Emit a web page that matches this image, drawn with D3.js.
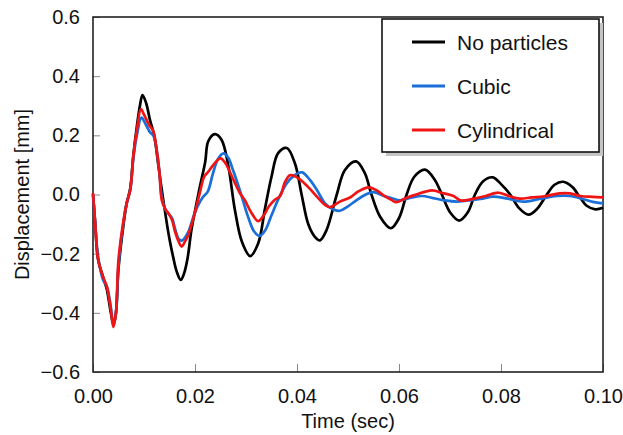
<!DOCTYPE html>
<html>
<head>
<meta charset="utf-8">
<script src="https://cdn.jsdelivr.net/npm/d3@7"></script>
<style>
  body { margin: 0; background: #fff; }
  text { font-family: "Liberation Sans", Arial, sans-serif; fill: #111; }
</style>
</head>
<body>
<div id="chart"></div>
<script>
// series: time (s) and displacement (mm)
var tNone = [0,0.0004,0.001,0.002,0.0027,0.0035,0.004,0.0045,0.005,0.006,0.0066,0.0073,0.0079,0.0086,0.0092,0.0097,0.0104,0.0112,0.012,0.0128,0.0137,0.0145,0.0151,0.0157,0.0164,0.0172,0.0178,0.0185,0.0193,0.0203,0.021,0.022,0.0226,0.0239,0.0252,0.0265,0.0278,0.0292,0.0308,0.0324,0.0337,0.035,0.0363,0.038,0.0396,0.0409,0.0422,0.0435,0.0445,0.0458,0.0478,0.0494,0.0516,0.0533,0.0546,0.0563,0.0584,0.06,0.0615,0.063,0.0651,0.067,0.0684,0.07,0.0718,0.0735,0.0749,0.0765,0.0784,0.08,0.0818,0.0835,0.0854,0.087,0.089,0.0905,0.0922,0.094,0.0955,0.0968,0.0985,0.1];
var dNone = [0,-0.09,-0.22,-0.28,-0.32,-0.4,-0.44,-0.4,-0.25,-0.1,-0.03,0.02,0.13,0.23,0.3,0.336,0.31,0.25,0.2,0.1,-0.01,-0.1,-0.16,-0.21,-0.26,-0.289,-0.27,-0.22,-0.12,-0.03,0.03,0.11,0.18,0.204,0.185,0.1,-0.05,-0.16,-0.208,-0.165,-0.05,0.06,0.14,0.157,0.105,0,-0.1,-0.143,-0.155,-0.12,0,0.083,0.112,0.072,0,-0.075,-0.114,-0.08,0,0.06,0.084,0.05,0,-0.06,-0.088,-0.06,0,0.045,0.058,0.035,0,-0.045,-0.068,-0.05,0,0.033,0.043,0.025,-0.01,-0.038,-0.05,-0.045];

var tCubic = [0,0.0004,0.001,0.002,0.0027,0.0035,0.004,0.0045,0.005,0.006,0.0066,0.0073,0.0079,0.0086,0.0095,0.0104,0.0112,0.0118,0.0124,0.013,0.0135,0.0142,0.0148,0.0155,0.016,0.0168,0.0174,0.0186,0.0196,0.0205,0.0215,0.0225,0.0235,0.0245,0.0256,0.0265,0.0275,0.0285,0.0294,0.0305,0.0316,0.0327,0.0338,0.035,0.0365,0.038,0.0395,0.041,0.0425,0.0439,0.0455,0.047,0.0484,0.05,0.0517,0.0535,0.055,0.057,0.0585,0.0602,0.0625,0.0645,0.0667,0.069,0.0713,0.0735,0.076,0.0785,0.081,0.0844,0.0875,0.091,0.0935,0.096,0.098,0.1];
var dCubic = [0,-0.09,-0.21,-0.29,-0.31,-0.38,-0.44,-0.4,-0.24,-0.09,-0.03,0.015,0.12,0.2,0.26,0.235,0.21,0.2,0.16,0.08,-0.01,-0.05,-0.065,-0.08,-0.11,-0.15,-0.156,-0.13,-0.08,-0.04,-0.01,0.01,0.07,0.12,0.139,0.125,0.08,0.03,-0.02,-0.08,-0.125,-0.14,-0.12,-0.07,-0.01,0.038,0.065,0.075,0.05,0.015,-0.03,-0.05,-0.055,-0.04,-0.019,0,0.008,-0.005,-0.012,-0.02,-0.01,-0.005,-0.012,-0.02,-0.024,-0.02,-0.015,-0.007,-0.013,-0.024,-0.015,-0.005,-0.005,-0.015,-0.025,-0.03];

var tCyl = [0,0.0004,0.001,0.002,0.0027,0.0035,0.004,0.0045,0.005,0.006,0.0066,0.0073,0.0079,0.0086,0.0094,0.01,0.011,0.0118,0.0124,0.013,0.0135,0.0142,0.0148,0.0155,0.016,0.0167,0.0174,0.018,0.0186,0.019,0.02,0.021,0.0218,0.0226,0.0236,0.025,0.026,0.027,0.0278,0.0288,0.0298,0.031,0.0324,0.0335,0.0345,0.0355,0.0367,0.0376,0.0386,0.0396,0.041,0.0425,0.0439,0.0455,0.0465,0.0484,0.0504,0.052,0.054,0.0555,0.0569,0.0585,0.0595,0.061,0.063,0.0665,0.0685,0.0707,0.072,0.0745,0.077,0.0795,0.0815,0.0837,0.086,0.0885,0.0915,0.0935,0.0955,0.098,0.1];
var dCyl = [0.005,-0.09,-0.22,-0.28,-0.31,-0.39,-0.448,-0.4,-0.22,-0.086,-0.03,0.015,0.128,0.218,0.289,0.27,0.235,0.215,0.16,0.08,-0.02,-0.05,-0.064,-0.086,-0.12,-0.155,-0.176,-0.16,-0.14,-0.12,-0.06,0.01,0.06,0.077,0.1,0.122,0.105,0.07,0.04,0.005,-0.02,-0.06,-0.09,-0.07,-0.04,-0.02,-0.005,0.04,0.065,0.062,0.045,0.02,-0.007,-0.035,-0.043,-0.024,-0.01,0.01,0.024,0.015,-0.002,-0.018,-0.026,-0.015,-0.002,0.014,0.005,-0.005,-0.02,-0.015,-0.005,0.006,-0.005,-0.014,-0.01,-0.006,0.004,0.004,-0.005,-0.008,-0.01];

var seriesNames = ["No particles", "Cubic", "Cylindrical"];
var seriesColors = ["#000000", "#1a6fd8", "#f01414"];
var xTicks = [0, 0.02, 0.04, 0.06, 0.08, 0.10];
var yTicks = [-0.6, -0.4, -0.2, 0.0, 0.2, 0.4, 0.6];

var W = 623, H = 435;
var margin = {top: 17, right: 20, bottom: 63, left: 93};
var width = W - margin.left - margin.right;
var height = H - margin.top - margin.bottom;

var svg = d3.select("#chart").append("svg")
    .attr("width", W)
    .attr("height", H);

var g = svg.append("g")
    .attr("transform", "translate(" + margin.left + "," + margin.top + ")");

var x = d3.scaleLinear().domain([0, 0.1]).range([0, width]);
var y = d3.scaleLinear().domain([-0.6, 0.6]).range([height, 0]);

// axes, ticks pointing inward
var xAxis = g.append("g")
    .attr("transform", "translate(0," + height + ")")
    .call(d3.axisBottom(x).tickValues(xTicks).tickSizeInner(-8).tickSizeOuter(0).tickPadding(17)
        .tickFormat(d3.format(".2f")));
var yAxis = g.append("g")
    .call(d3.axisLeft(y).tickValues(yTicks).tickSizeInner(-7).tickSizeOuter(0).tickPadding(13)
        .tickFormat(function(d){ return d < 0 ? "\u2212" + d3.format(".1f")(-d) : d3.format(".1f")(d); }));

[xAxis, yAxis].forEach(function(a){
    a.select(".domain").remove();
    a.selectAll(".tick line").attr("stroke", "#888").attr("stroke-width", 1);
    a.selectAll(".tick text").style("font-size", "20px").attr("fill", "#111");
});

// frame
g.append("rect")
    .attr("width", width)
    .attr("height", height)
    .attr("fill", "none")
    .attr("stroke", "#222")
    .attr("stroke-width", 1.6);

var line = d3.line()
    .x(function(d){ return x(d[0]); })
    .y(function(d){ return y(d[1]); })
    .curve(d3.curveCatmullRom.alpha(0.5));

var data = [d3.zip(tNone, dNone), d3.zip(tCubic, dCubic), d3.zip(tCyl, dCyl)];

g.selectAll(".series").data(data).enter().append("path")
    .attr("class", "series")
    .attr("d", line)
    .attr("fill", "none")
    .attr("stroke", function(d, i){ return seriesColors[i]; })
    .attr("stroke-width", 2.7)
    .attr("stroke-linejoin", "round");

// axis titles
g.append("text")
    .attr("x", width / 2)
    .attr("y", height + 56)
    .attr("text-anchor", "middle")
    .style("font-size", "20px")
    .text("Time (sec)");

g.append("text")
    .attr("transform", "translate(" + (-64) + "," + (height / 2) + ") rotate(-90)")
    .attr("text-anchor", "middle")
    .style("font-size", "20px")
    .text("Displacement [mm]");

// legend with drop shadow
var lg = svg.append("g").attr("transform", "translate(382,19)");
lg.append("rect").attr("x", 4).attr("y", 4).attr("width", 217).attr("height", 133).attr("fill", "#c4c4c4");
lg.append("rect").attr("width", 217).attr("height", 133).attr("fill", "#fff").attr("stroke", "#111").attr("stroke-width", 1.6);

var rows = lg.selectAll(".row").data(seriesNames).enter().append("g")
    .attr("transform", function(d, i){ return "translate(0," + (23 + i * 44) + ")"; });
rows.append("line")
    .attr("x1", 30).attr("x2", 63)
    .attr("stroke", function(d, i){ return seriesColors[i]; })
    .attr("stroke-width", 3);
rows.append("text")
    .attr("x", 75)
    .attr("dy", "0.36em")
    .style("font-size", "21px")
    .text(function(d){ return d; });
</script>
</body>
</html>
